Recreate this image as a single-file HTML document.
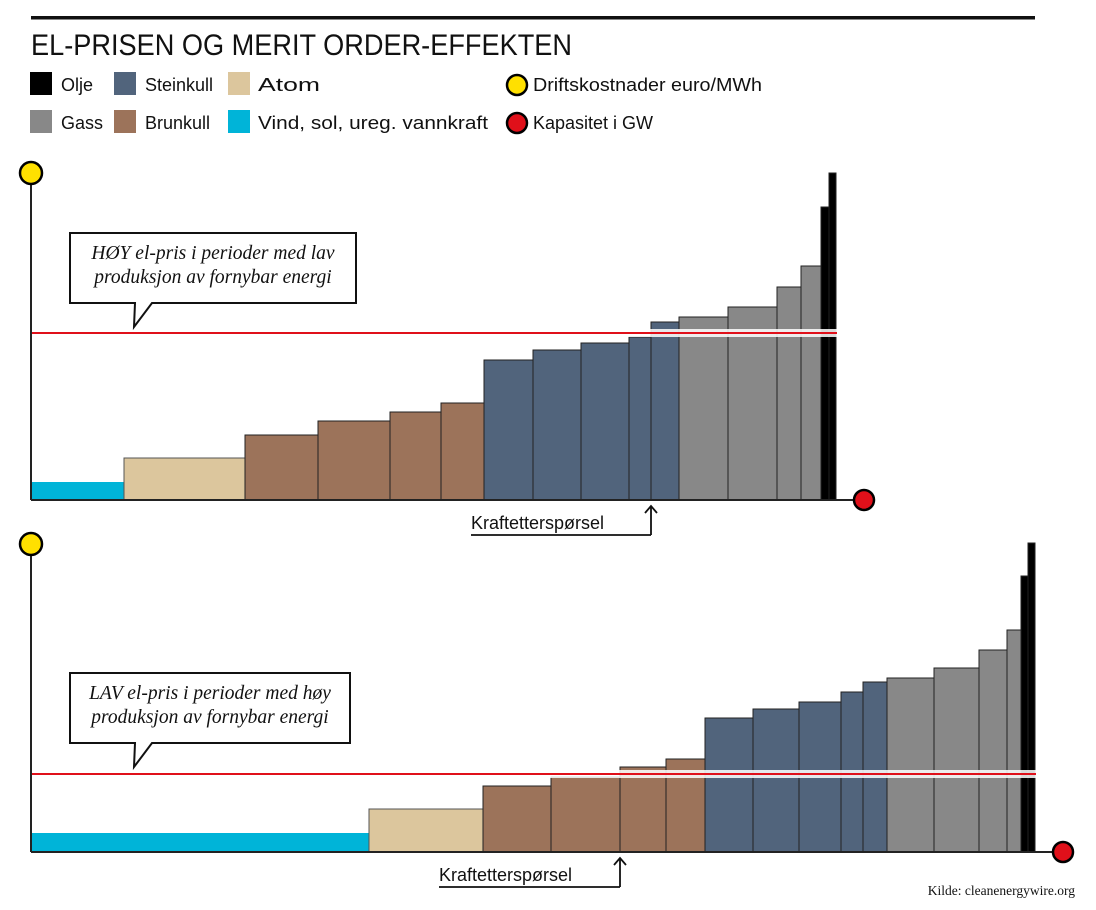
<!DOCTYPE html>
<html><head><meta charset="utf-8"><style>
html,body{margin:0;padding:0;background:#fff;}
svg{display:block}
.s{font-family:"Liberation Sans",sans-serif;font-size:18px;fill:#111}
.i{font-family:"Liberation Serif",serif;font-style:italic;font-size:19.5px;fill:#111}
</style></head><body>
<svg width="1096" height="910" viewBox="0 0 1096 910" xmlns="http://www.w3.org/2000/svg">
<rect x="31" y="16" width="1004" height="3.5" fill="#111"/>
<text x="31" y="55" font-family="Liberation Sans, sans-serif" font-size="30" fill="#111" textLength="541" lengthAdjust="spacingAndGlyphs">EL-PRISEN OG MERIT ORDER-EFFEKTEN</text>
<!-- legend -->
<rect x="30" y="72" width="22" height="23" fill="#000"/><text class="s" x="61" y="91">Olje</text>
<rect x="30" y="110" width="22" height="23" fill="#888"/><text class="s" x="61" y="129">Gass</text>
<rect x="114" y="72" width="22" height="23" fill="#51647c"/><text class="s" x="145" y="91">Steinkull</text>
<rect x="114" y="110" width="22" height="23" fill="#9c735a"/><text class="s" x="145" y="129">Brunkull</text>
<rect x="228" y="72" width="22" height="23" fill="#dcc69d"/><text class="s" x="258" y="91" textLength="62" lengthAdjust="spacingAndGlyphs">Atom</text>
<rect x="228" y="110" width="22" height="23" fill="#00b4d8"/><text class="s" x="258" y="129" textLength="230" lengthAdjust="spacingAndGlyphs">Vind, sol, ureg. vannkraft</text>
<circle cx="517" cy="85" r="10" fill="#ffe000" stroke="#000" stroke-width="2.5"/><text class="s" x="533" y="91" textLength="229" lengthAdjust="spacingAndGlyphs">Driftskostnader euro/MWh</text>
<circle cx="517" cy="123" r="10" fill="#e0101a" stroke="#000" stroke-width="2.5"/><text class="s" x="533" y="129">Kapasitet i GW</text>

<!-- TOP CHART -->
<g stroke="#222" stroke-width="1">
<rect x="31" y="482" width="93" height="18" fill="#00b4d8" stroke="none"/>
<rect x="124" y="458" width="121" height="42" fill="#dcc69d" stroke="#555"/>
<rect x="245" y="435" width="73" height="65" fill="#9c735a"/>
<rect x="318" y="421" width="72" height="79" fill="#9c735a"/>
<rect x="390" y="412" width="51" height="88" fill="#9c735a"/>
<rect x="441" y="403" width="43" height="97" fill="#9c735a"/>
<rect x="484" y="360" width="49" height="140" fill="#51647c"/>
<rect x="533" y="350" width="48" height="150" fill="#51647c"/>
<rect x="581" y="343" width="48" height="157" fill="#51647c"/>
<rect x="629" y="337" width="22" height="163" fill="#51647c"/>
<rect x="651" y="322" width="28" height="178" fill="#51647c"/>
<rect x="679" y="317" width="49" height="183" fill="#888"/>
<rect x="728" y="307" width="49" height="193" fill="#888"/>
<rect x="777" y="287" width="24" height="213" fill="#888"/>
<rect x="801" y="266" width="20" height="234" fill="#888"/>
<rect x="821" y="207" width="8" height="293" fill="#000"/>
<rect x="829" y="173" width="7" height="327" fill="#000"/>
</g>
<rect x="124" y="329" width="713" height="8" fill="#fff" opacity="0.85"/>
<line x1="31" y1="333" x2="837" y2="333" stroke="#e0101a" stroke-width="2"/>
<line x1="31" y1="180" x2="31" y2="500" stroke="#222" stroke-width="2"/>
<line x1="31" y1="500" x2="855" y2="500" stroke="#222" stroke-width="2"/>
<circle cx="31" cy="173" r="11" fill="#ffe000" stroke="#000" stroke-width="2.5"/>
<circle cx="864" cy="500" r="10" fill="#e0101a" stroke="#000" stroke-width="2.5"/>
<path d="M651 535 V506 M645 513 L651 506 L657 513 M651 535 H471" fill="none" stroke="#111" stroke-width="1.8"/>
<text class="s" x="471" y="529">Kraftetterspørsel</text>
<path d="M70 233 H356 V303 H152 L134 327 L135 303 H70 Z" fill="#fff" stroke="#111" stroke-width="2"/>
<text class="i" x="213" y="259" text-anchor="middle">HØY el-pris i perioder med lav</text>
<text class="i" x="213" y="283" text-anchor="middle">produksjon av fornybar energi</text>

<!-- BOTTOM CHART -->
<g stroke="#222" stroke-width="1">
<rect x="31" y="833" width="338" height="19" fill="#00b4d8" stroke="none"/>
<rect x="369" y="809" width="114" height="43" fill="#dcc69d" stroke="#555"/>
<rect x="483" y="786" width="68" height="66" fill="#9c735a"/>
<rect x="551" y="777" width="69" height="75" fill="#9c735a"/>
<rect x="620" y="767" width="46" height="85" fill="#9c735a"/>
<rect x="666" y="759" width="39" height="93" fill="#9c735a"/>
<rect x="705" y="718" width="48" height="134" fill="#51647c"/>
<rect x="753" y="709" width="46" height="143" fill="#51647c"/>
<rect x="799" y="702" width="42" height="150" fill="#51647c"/>
<rect x="841" y="692" width="22" height="160" fill="#51647c"/>
<rect x="863" y="682" width="24" height="170" fill="#51647c"/>
<rect x="887" y="678" width="47" height="174" fill="#888"/>
<rect x="934" y="668" width="45" height="184" fill="#888"/>
<rect x="979" y="650" width="28" height="202" fill="#888"/>
<rect x="1007" y="630" width="14" height="222" fill="#888"/>
<rect x="1021" y="576" width="7" height="276" fill="#000"/>
<rect x="1028" y="543" width="7" height="309" fill="#000"/>
</g>
<rect x="31" y="770" width="1005" height="8" fill="#fff" opacity="0.85"/>
<line x1="31" y1="774" x2="1036" y2="774" stroke="#e0101a" stroke-width="2"/>
<line x1="31" y1="551" x2="31" y2="852" stroke="#222" stroke-width="2"/>
<line x1="31" y1="852" x2="1053" y2="852" stroke="#222" stroke-width="2"/>
<circle cx="31" cy="544" r="11" fill="#ffe000" stroke="#000" stroke-width="2.5"/>
<circle cx="1063" cy="852" r="10" fill="#e0101a" stroke="#000" stroke-width="2.5"/>
<path d="M620 887 V858 M614 865 L620 858 L626 865 M620 887 H439" fill="none" stroke="#111" stroke-width="1.8"/>
<text class="s" x="439" y="881">Kraftetterspørsel</text>
<path d="M70 673 H350 V743 H152 L134 767 L135 743 H70 Z" fill="#fff" stroke="#111" stroke-width="2"/>
<text class="i" x="210" y="699" text-anchor="middle">LAV el-pris i perioder med høy</text>
<text class="i" x="210" y="723" text-anchor="middle">produksjon av fornybar energi</text>

<text x="1075" y="895" text-anchor="end" font-family="Liberation Serif, serif" font-size="13.5" fill="#111">Kilde: cleanenergywire.org</text>
</svg>
</body></html>
